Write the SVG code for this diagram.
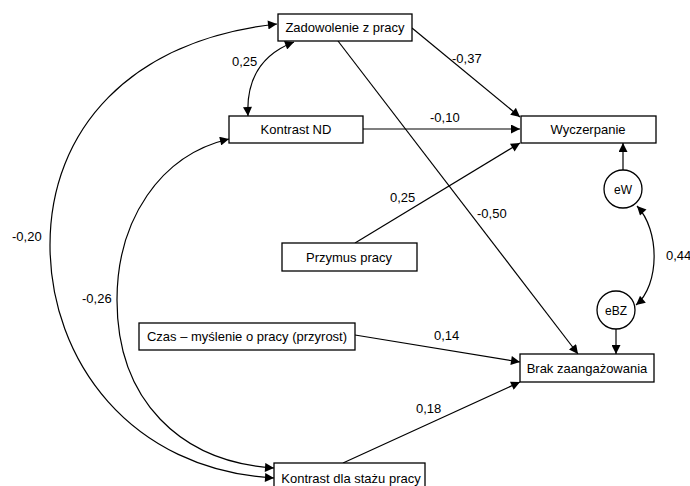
<svg xmlns="http://www.w3.org/2000/svg" width="690" height="486" viewBox="0 0 690 486">
<style>
.box{fill:#fff;stroke:#000;stroke-width:1.3}
.t{font-family:"Liberation Sans",Arial,sans-serif;font-size:13px;fill:#000;text-anchor:middle}
.l{font-family:"Liberation Sans",Arial,sans-serif;font-size:13px;fill:#000}
.c{fill:none;stroke:#000;stroke-width:1.2}
</style>
<defs>
<marker id="ah" viewBox="0 0 10 10" refX="10" refY="5" markerWidth="10" markerHeight="9" markerUnits="userSpaceOnUse" orient="auto-start-reverse">
<path d="M0,0 L10,5 L0,10 Z" fill="#000"/>
</marker>
</defs>
<rect width="690" height="486" fill="#fff"/>
<g id="connectors">
<path class="c" d="M412,28 L520,117" marker-end="url(#ah)"/>
<path class="c" d="M338,41 L578,354" marker-end="url(#ah)"/>
<path class="c" d="M363,129 L520,129" marker-end="url(#ah)"/>
<path class="c" d="M355,243 L520,143" marker-end="url(#ah)"/>
<path class="c" d="M623,170 L623,143" marker-end="url(#ah)"/>
<path class="c" d="M616,329 L616,354" marker-end="url(#ah)"/>
<path class="c" d="M355,335 L520,362" marker-end="url(#ah)"/>
<path class="c" d="M343,463 L520,382" marker-end="url(#ah)"/>
<path class="c" d="M294,42 C260,55 246,80 248,116" marker-start="url(#ah)" marker-end="url(#ah)"/>
<path class="c" d="M277,24 C130,40 50,130 50,245 C50,360 130,470 274,478" marker-start="url(#ah)" marker-end="url(#ah)"/>
<path class="c" d="M229,139 C160,155 117,220 117,300 C117,400 180,462 274,468" marker-start="url(#ah)" marker-end="url(#ah)"/>
<path class="c" d="M637,206 C660,230 660,285 636,305" marker-start="url(#ah)" marker-end="url(#ah)"/>
</g>
<g id="labels">
<text class="l" x="232" y="66">0,25</text>
<text class="l" x="12" y="241">-0,20</text>
<text class="l" x="82" y="303">-0,26</text>
<text class="l" x="452" y="63">-0,37</text>
<text class="l" x="430" y="122">-0,10</text>
<text class="l" x="390" y="202">0,25</text>
<text class="l" x="477" y="218">-0,50</text>
<text class="l" x="666" y="260">0,44</text>
<text class="l" x="434" y="340">0,14</text>
<text class="l" x="416" y="413">0,18</text>
</g>
<g id="zadowolenie"><rect class="box" x="278" y="14" width="134" height="27"/><text class="t" x="345" y="32">Zadowolenie z pracy</text></g>
<g id="kontrastND"><rect class="box" x="229" y="116" width="134" height="27"/><text class="t" x="296" y="134">Kontrast ND</text></g>
<g id="wyczerpanie"><rect class="box" x="521" y="116" width="135" height="27"/><text class="t" x="588" y="134">Wyczerpanie</text></g>
<g id="przymus"><rect class="box" x="282" y="243" width="135" height="28"/><text class="t" x="349" y="262">Przymus pracy</text></g>
<g id="czas"><rect class="box" x="139" y="323" width="216" height="27"/><text class="t" x="247" y="341">Czas – myślenie o pracy (przyrost)</text></g>
<g id="brak"><rect class="box" x="520" y="354" width="134" height="28"/><text class="t" x="587" y="373">Brak zaangażowania</text></g>
<g id="kontrastStaz"><rect class="box" x="274" y="463" width="151" height="28"/><text class="t" x="351" y="483">Kontrast dla stażu pracy</text></g>
<g id="eW"><circle class="box" cx="623" cy="189" r="19"/><text class="t" x="623" y="194" style="font-size:12px">eW</text></g>
<g id="eBZ"><circle class="box" cx="616" cy="310" r="19"/><text class="t" x="616" y="315" style="font-size:12px">eBZ</text></g>
</svg>
